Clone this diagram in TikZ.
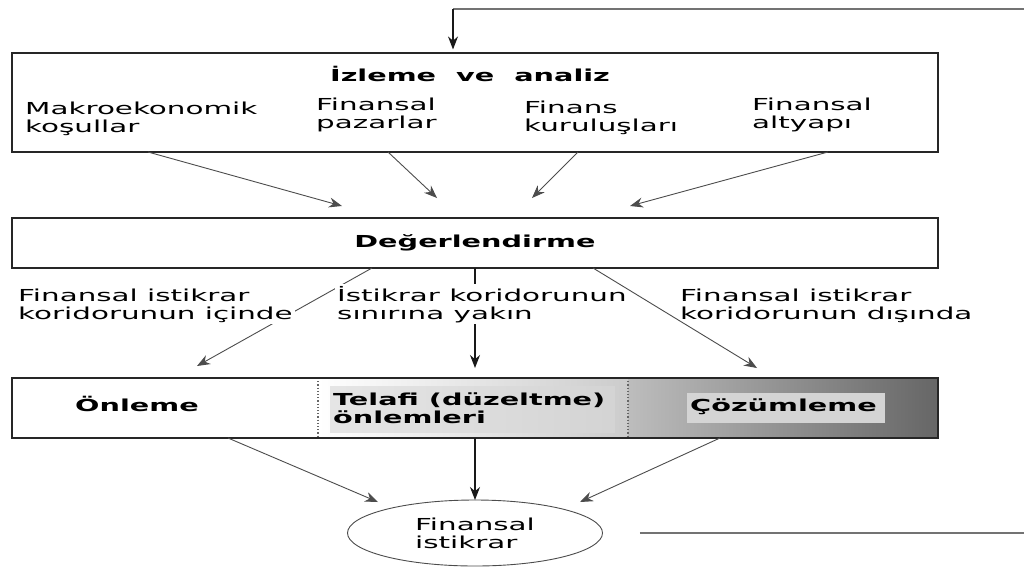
\documentclass[tikz,border=0pt]{standalone}
\usepackage{fontspec}
\setmainfont{DejaVu Sans}[FakeStretch=1.78,BoldFeatures={FakeStretch=1.74}]
\usetikzlibrary{arrows.meta,shapes.geometric}
\begin{document}
\begin{tikzpicture}[x=1pt,y=-1pt,
  box/.style={draw=black!85,line width=1.1pt,minimum width=926pt,inner sep=0pt},
  txt/.style={anchor=base west,inner sep=0pt,align=left,font=\fontsize{16.5}{18}\selectfont},
  btxt/.style={anchor=base west,inner sep=0pt,align=left,font=\fontsize{16.5}{18}\selectfont\bfseries},
  conn/.style={draw=black!70,line width=0.9pt,-{Stealth[length=13pt,width=10pt]}},
  vconn/.style={draw=black!90,line width=1.2pt,-{Stealth[length=13pt,width=10pt]}},
  fb/.style={draw=black!55,line width=1.4pt},
  ]
\useasboundingbox (0,0) rectangle (1024,568);

% box 3 shading (drawn first)
\shade[left color=white,right color=black!20] (318,378) rectangle (628,438);
\shade[left color=black!26,right color=black!60] (628,378) rectangle (938,438);
\shade[left color=black!10,right color=black!17] (330,386) rectangle (615,432);
\fill[black!17] (687,393) rectangle (885,423);
\draw[black!60,dotted,line width=1.2pt] (318,378) -- (318,438);
\draw[black!60,dotted,line width=1.2pt] (628,378) -- (628,438);

% boxes
\node[box,minimum height=99pt] (mon) at (475,102.5) {};
\node[box,minimum height=50pt] (eval) at (475,243) {};
\node[box,minimum height=60pt] (act) at (475,408) {};
\node[draw=black!70,line width=0.9pt,ellipse,minimum width=255pt,minimum height=66pt,inner sep=0pt,align=left,font=\fontsize{16.5}{18}\selectfont] (fs) at (475,533) {Finansal\\istikrar};

% titles
\node[btxt,anchor=base] (montitle) at (470,81) {İzleme\ \ ve\ \ analiz};
\node[btxt,anchor=base] (evaltitle) at (475,247) {Değerlendirme};
\node[btxt] (onl) at (75,411) {Önleme};
\node[btxt] (tel) at (333,423) {Telafi (düzeltme)\\önlemleri};
\node[btxt] (coz) at (690,411) {Çözümleme};

% monitoring items
\node[txt] (mak) at (25,132) {Makroekonomik\\koşullar};
\node[txt] (paz) at (316,128) {Finansal\\pazarlar};
\node[txt] (kur) at (524,131) {Finans\\kuruluşları};
\node[txt] (alt) at (752,128) {Finansal\\altyapı};

% feedback loop
\coordinate (fbr) at (1024,9);
\coordinate (fbc) at (453,9);
\draw[fb] (fbr) -- (fbc);
\draw[vconn,shorten >=3pt] (fbc) -- (fbc |- mon.north);
\coordinate (fsr) at (1024,533);
\draw[fb] ([xshift=37pt]fs.east) -- (fsr);

% monitoring -> evaluation
\coordinate (m1) at (148,152); \coordinate (e1) at (342,206);
\coordinate (m2) at (388,152); \coordinate (e2) at (437,198);
\coordinate (m3) at (578,152); \coordinate (e3) at (532,198);
\coordinate (m4) at (828,152); \coordinate (e4) at (630,206);
\draw[conn] (m1) -- (e1);
\draw[conn] (m2) -- (e2);
\draw[conn] (m3) -- (e3);
\draw[conn] (m4) -- (e4);

% evaluation -> actions
\coordinate (v1) at (372,268); \coordinate (a1) at (197,366);
\coordinate (v2) at (475,268); \coordinate (a2) at (475,368);
\coordinate (v3) at (593,268); \coordinate (a3) at (757,368);
\draw[conn] (v1) -- (a1);
\draw[vconn] (v2) -- (a2);
\node[txt,fill=white,inner sep=2pt] (lin) at (16,319) {Finansal istikrar\\koridorunun içinde};
\node[txt,fill=white,inner sep=2pt] (lnear) at (335,319) {İstikrar koridorunun\\sınırına yakın};
\draw[conn] (v3) -- (a3);
\node[txt] (lout) at (680,319) {Finansal istikrar\\koridorunun dışında};

% actions -> stability
\coordinate (b1) at (228,438); \coordinate (s1) at (378,502);
\coordinate (b2) at (475,438); \coordinate (s2) at (475,500);
\coordinate (b3) at (720,438); \coordinate (s3) at (580,502);
\draw[conn] (b1) -- (s1);
\draw[vconn] (b2) -- (s2);
\draw[conn] (b3) -- (s3);
\end{tikzpicture}
\end{document}
